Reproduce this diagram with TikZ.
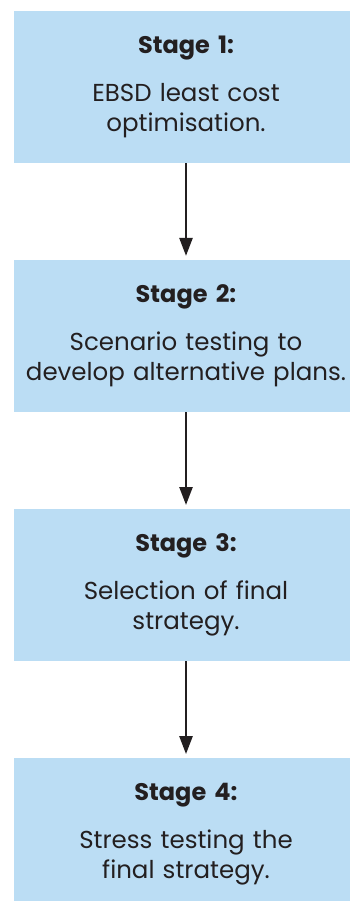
\documentclass[tikz,border=0pt]{standalone}
\usepackage{fontspec}
\setmainfont{Poppins}
\usetikzlibrary{arrows.meta,positioning}
\definecolor{stagefill}{RGB}{187,221,244}
\definecolor{figdark}{RGB}{35,31,32}
\newcommand{\stagetitle}[1]{{\fontsize{24}{30}\selectfont\textbf{#1}}}
\tikzset{
  stage/.style={
    rectangle, fill=stagefill, text=figdark,
    minimum width=344pt, minimum height=152pt,
    text width=344pt, align=center, inner sep=0pt,
    font=\fontsize{24.5}{30}\selectfont
  },
  arrow/.style={-{Triangle[length=18pt,width=13pt]}, line width=2.5pt,
    draw=figdark, shorten >=4pt}
}

\begin{document}
\begin{tikzpicture}[x=1pt,y=1pt,node distance=96.7pt]
  \useasboundingbox (0,0) rectangle (349,-901);
  \node[stage] (stage1) at (186,-87)
    {\stagetitle{Stage 1:}\\[18pt]EBSD least cost\\optimisation.};
  \node[stage, below=of stage1] (stage2)
    {\stagetitle{Stage 2:}\\[18pt]Scenario testing to\\develop alternative plans.};
  \node[stage, below=of stage2] (stage3)
    {\stagetitle{Stage 3:}\\[18pt]Selection of final\\strategy.};
  \node[stage, below=of stage3] (stage4)
    {\stagetitle{Stage 4:}\\[18pt]Stress testing the\\final strategy.};

  \draw[arrow] (stage1) -- (stage2);
  \draw[arrow] (stage2) -- (stage3);
  \draw[arrow] (stage3) -- (stage4);
\end{tikzpicture}
\end{document}
